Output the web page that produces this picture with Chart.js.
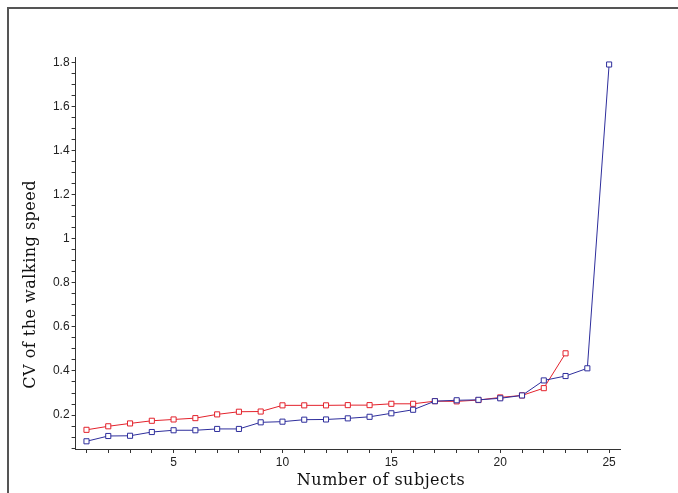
<!DOCTYPE html>
<html>
<head>
<meta charset="utf-8">
<script src="https://cdn.jsdelivr.net/npm/chart.js@4/dist/chart.umd.min.js"></script>
<style>
  html, body { margin: 0; padding: 0; background: #fff; }
  #wrap { position: relative; width: 678px; height: 493px; overflow: hidden; }
  #frame { position: absolute; left: 7px; top: 7px; width: 700px; height: 520px;
           border-left: 2px solid #555; border-top: 2px solid #555; }
  canvas { position: absolute; left: 0; top: 0; }
</style>
</head>
<body>
<div id="wrap">
  <div id="frame"></div>
  <canvas id="chart" width="678" height="493"></canvas>
</div>
<script>
// ---------------- data ----------------
const SUBJECTS_RED = [1,2,3,4,5,6,7,8,9,10,11,12,13,14,15,16,17,18,19,20,21,22,23];
const CV_RED = [0.133, 0.149, 0.162, 0.174, 0.180, 0.186, 0.203, 0.215, 0.216, 0.244, 0.244, 0.244,
                0.245, 0.245, 0.251, 0.251, 0.263, 0.262, 0.268, 0.280, 0.289, 0.322, 0.480];

const SUBJECTS_BLUE = [1,2,3,4,5,6,7,8,9,10,11,12,13,14,15,16,17,18,19,20,21,22,23,24,25];
const CV_BLUE = [0.081, 0.105, 0.106, 0.123, 0.131, 0.131, 0.137, 0.137, 0.167, 0.170, 0.179, 0.180,
                 0.185, 0.192, 0.208, 0.224, 0.263, 0.267, 0.269, 0.276, 0.289, 0.357, 0.377, 0.412, 1.79];

const X_TICKS = [1,2,3,4,5,6,7,8,9,10,11,12,13,14,15,16,17,18,19,20,21,22,23,24,25];
const X_LABELS = ["5", "10", "15", "20", "25"];
const Y_LABELS = ["0.2", "0.4", "0.6", "0.8", "1", "1.2", "1.4", "1.6", "1.8"];

const X_TITLE = "Number of subjects";
const Y_TITLE = "CV of the walking speed";

const RED = "#e3222c";
const BLUE = "#2e2e9c";
const AXIS = "#333";

// y ticks every 0.05, labelled every 0.2
const yTicks = [];
for (let i = 1; i <= 36; i++) yTicks.push(+(i * 0.05).toFixed(2));

const toPoints = (xs, ys) => xs.map((x, i) => ({ x, y: ys[i] }));

// titles sit a bit off-centre in the original, so draw them by hand
const titlesPlugin = {
  id: "titles",
  afterDraw(chart) {
    const ctx = chart.ctx;
    const a = chart.chartArea;
    ctx.save();
    ctx.fillStyle = "#111";
    ctx.font = "16px 'DejaVu Serif'";
    ctx.letterSpacing = "0.5px";
    ctx.textAlign = "center";
    ctx.textBaseline = "alphabetic";
    ctx.fillText(X_TITLE, a.left + (a.right - a.left) * 0.561, 485);
    ctx.translate(35, a.top + (a.bottom - a.top) * 0.58);
    ctx.rotate(-Math.PI / 2);
    ctx.fillText(Y_TITLE, 0, 0);
    ctx.restore();
  }
};

new Chart(document.getElementById("chart"), {
  type: "line",
  data: {
    datasets: [
      {
        data: toPoints(SUBJECTS_BLUE, CV_BLUE),
        borderColor: BLUE, backgroundColor: "#fff",
        borderWidth: 1, pointStyle: "rect", pointRadius: 3.6,
        pointBorderWidth: 1, pointBorderColor: BLUE, pointBackgroundColor: "#fff"
      },
      {
        data: toPoints(SUBJECTS_RED, CV_RED),
        borderColor: RED, backgroundColor: "#fff",
        borderWidth: 1, pointStyle: "rect", pointRadius: 3.6,
        pointBorderWidth: 1, pointBorderColor: RED, pointBackgroundColor: "#fff"
      }
    ]
  },
  options: {
    responsive: false,
    animation: false,
    layout: { padding: { left: 0, top: 57, right: 58, bottom: 0 } },
    plugins: { legend: { display: false }, tooltip: { enabled: false } },
    elements: { line: { tension: 0 } },
    scales: {
      x: {
        type: "linear", min: 0.5, max: 25.5,
        afterBuildTicks: (s) => { s.ticks = X_TICKS.map(v => ({ value: v })); },
        afterFit: (s) => { s.height = 44; },
        border: { display: true, color: AXIS, width: 1 },
        grid: { drawOnChartArea: false, drawTicks: true, tickLength: 4, color: AXIS },
        ticks: {
          autoSkip: false, maxRotation: 0, padding: 2, color: "#222",
          font: { family: "'Liberation Sans'", size: 12 },
          callback: (v) => X_LABELS.includes(String(v)) ? String(v) : ""
        }
      },
      y: {
        type: "linear", min: 0.046, max: 1.824,
        afterBuildTicks: (s) => { s.ticks = yTicks.map(v => ({ value: v })); },
        afterFit: (s) => { s.width = 75.6; },
        border: { display: true, color: AXIS, width: 1 },
        grid: { drawOnChartArea: false, drawTicks: true, tickLength: 4, color: AXIS },
        ticks: {
          autoSkip: false, padding: 2, color: "#222",
          font: { family: "'Liberation Sans'", size: 12 },
          callback: (v) => {
            const s = String(+v.toFixed(2));
            return Y_LABELS.includes(s) ? s : "";
          }
        }
      }
    }
  },
  plugins: [titlesPlugin]
});
</script>
</body>
</html>
